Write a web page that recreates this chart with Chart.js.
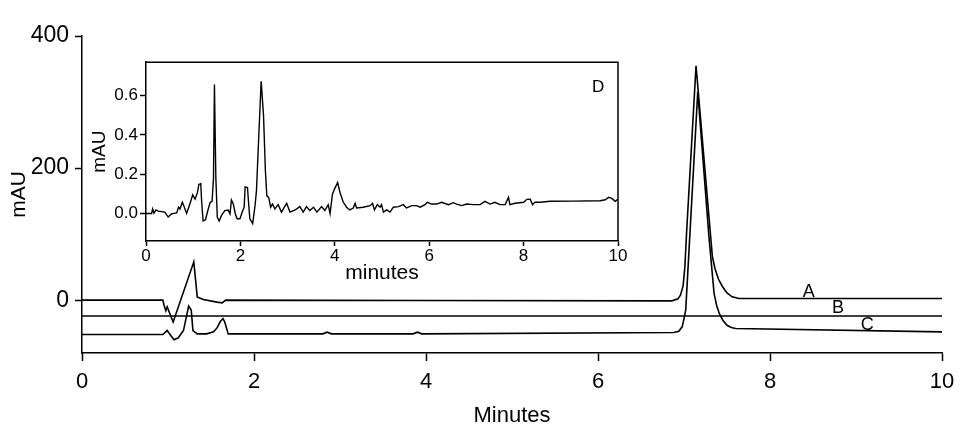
<!DOCTYPE html>
<html lang="en">
<head>
<meta charset="UTF-8">
<title>Chromatogram</title>
<script src="https://cdn.jsdelivr.net/npm/chart.js"></script>
<style>
  body { margin: 0; background: #fff; }
  .wrap { position: relative; width: 972px; height: 440px; }
  #main { position: absolute; left: 0; top: 0; }
  #inset { position: absolute; left: 80px; top: 50px; }
</style>
</head>
<body>
<div class="wrap">
  <canvas id="main" width="972" height="440"></canvas>
  <canvas id="inset" width="560" height="240"></canvas>
</div>
<script>
// main traces (minutes, mAU)
const timeA = [0, 0.94, 0.955, 0.975, 0.99, 1.06, 1.30, 1.34, 1.41, 1.57, 1.63, 1.67, 4.0, 6.86, 6.93, 6.96, 6.99, 7.01, 7.03, 7.14, 7.33, 7.36, 7.40, 7.45, 7.50, 7.56, 7.64, 10];
const valA  = [0, 0, -8, -16, -10, -33, 58, 5, 1, -3, -4, 0, -0.5, -1, 2, 8, 22, 50, 102, 355, 66, 48, 32, 20, 11, 5, 2.6, 2.6];
const timeB = [0, 10];
const valB  = [-24, -24];
const timeC = [0, 0.94, 0.99, 1.03, 1.07, 1.12, 1.18, 1.24, 1.27, 1.29, 1.34, 1.45, 1.53, 1.57, 1.61, 1.64, 1.66, 1.70, 2.80, 2.85, 2.90, 3.85, 3.90, 3.95, 6.88, 6.94, 6.98, 7.00, 7.02, 7.16, 7.29, 7.35, 7.38, 7.41, 7.45, 7.50, 7.55, 7.60, 10];
const valC  = [-52, -52, -46, -53, -60, -57, -46, -9, -15, -46, -51, -51, -48, -42, -32, -28, -33, -51, -51, -48.5, -51, -51, -48.5, -51, -49, -47, -40, -28, -15, 316, 96, 10, -8, -20, -30, -38, -41.5, -43, -48];
const mainXTicks = [0, 2, 4, 6, 8, 10];
const mainYTicks = [0, 200, 400];
const traceNames = ['A', 'B', 'C'];
const nameTimes  = [8.45, 8.79, 9.13];
const nameValues = [13, -12, -37];

// inset trace D (minutes, mAU)
const insetTime = [0.00, 0.12, 0.14, 0.17, 0.21, 0.26, 0.40, 0.47, 0.54, 0.65, 0.69, 0.72, 0.77, 0.80, 0.86, 0.93, 0.99, 1.04, 1.09, 1.12, 1.16, 1.18, 1.21, 1.26, 1.31, 1.36, 1.40, 1.43, 1.45, 1.48, 1.51, 1.55, 1.60, 1.67, 1.74, 1.78, 1.81, 1.85, 1.89, 1.93, 1.99, 2.05, 2.08, 2.10, 2.15, 2.17, 2.20, 2.26, 2.31, 2.34, 2.39, 2.44, 2.49, 2.53, 2.56, 2.60, 2.64, 2.68, 2.73, 2.80, 2.87, 2.98, 3.05, 3.16, 3.26, 3.33, 3.40, 3.47, 3.55, 3.62, 3.72, 3.79, 3.86, 3.90, 3.95, 4.00, 4.06, 4.11, 4.18, 4.25, 4.32, 4.39, 4.43, 4.46, 4.60, 4.75, 4.80, 4.84, 4.90, 4.96, 4.99, 5.03, 5.10, 5.17, 5.24, 5.35, 5.45, 5.52, 5.63, 5.73, 5.81, 5.91, 5.96, 6.05, 6.16, 6.26, 6.41, 6.51, 6.58, 6.69, 6.79, 6.94, 7.08, 7.18, 7.29, 7.39, 7.50, 7.61, 7.68, 7.71, 7.82, 8.00, 8.07, 8.14, 8.19, 8.24, 8.35, 8.56, 9.05, 9.62, 9.73, 9.80, 9.87, 9.94, 10.00];
const insetVal  = [0.000, 0.000, 0.023, 0.002, 0.018, 0.012, 0.007, -0.018, -0.002, 0.003, 0.032, 0.023, 0.057, 0.040, 0.000, 0.048, 0.095, 0.073, 0.107, 0.148, 0.152, 0.057, -0.038, -0.032, 0.015, 0.057, 0.062, 0.180, 0.657, 0.180, -0.018, -0.038, -0.010, 0.015, 0.018, -0.002, 0.068, 0.048, 0.000, -0.027, -0.027, 0.015, 0.032, 0.135, 0.132, 0.065, -0.027, -0.052, 0.040, 0.115, 0.398, 0.673, 0.498, 0.215, 0.090, 0.082, 0.032, 0.048, 0.023, 0.045, 0.007, 0.052, 0.007, 0.018, 0.035, 0.007, 0.035, 0.015, 0.032, 0.007, 0.035, 0.015, 0.045, 0.000, 0.098, 0.128, 0.157, 0.107, 0.057, 0.032, 0.018, 0.028, 0.052, 0.028, 0.032, 0.040, 0.052, 0.018, 0.045, 0.032, 0.045, 0.007, 0.018, 0.007, 0.032, 0.035, 0.045, 0.028, 0.040, 0.040, 0.032, 0.045, 0.057, 0.048, 0.048, 0.057, 0.045, 0.055, 0.048, 0.040, 0.048, 0.045, 0.045, 0.062, 0.048, 0.057, 0.045, 0.045, 0.082, 0.045, 0.052, 0.057, 0.072, 0.073, 0.045, 0.057, 0.057, 0.062, 0.063, 0.065, 0.070, 0.082, 0.077, 0.062, 0.073];
const insetXTicks = [0, 2, 4, 6, 8, 10];
const insetYTicks = [0, 0.2, 0.4, 0.6];
const insetName = 'D';

Chart.defaults.font.family = "'Liberation Sans', Arial, sans-serif";
Chart.defaults.color = '#000';

const zip = (xs, ys) => xs.map((x, i) => ({ x: x, y: ys[i] }));

function trace(label, xs, ys, w) {
  return { label: label, data: zip(xs, ys), borderColor: '#000', borderWidth: w,
           pointRadius: 0, tension: 0, fill: false };
}

function axisStyle(len) {
  return {
    grid: { display: true, drawOnChartArea: false, drawTicks: true, tickLength: len, tickColor: '#000', tickWidth: 1.5 },
    border: { display: true, color: '#000', width: 1.5 }
  };
}

const letters = {
  id: 'letters',
  afterDatasetsDraw(chart, args, opts) {
    const { ctx, scales } = chart;
    ctx.save();
    ctx.font = opts.size + "px 'Liberation Sans', Arial, sans-serif";
    ctx.fillStyle = '#000';
    ctx.textAlign = 'center';
    ctx.textBaseline = 'middle';
    opts.text.forEach((t, i) => {
      ctx.fillText(t, scales.x.getPixelForValue(opts.xs[i]), scales.y.getPixelForValue(opts.ys[i]));
    });
    ctx.restore();
  }
};

const frame = {
  id: 'frame',
  afterDraw(chart) {
    const { ctx, chartArea: a } = chart;
    ctx.save();
    ctx.strokeStyle = '#000';
    ctx.lineWidth = 1.5;
    ctx.beginPath();
    ctx.moveTo(a.left, a.top);
    ctx.lineTo(a.right, a.top);
    ctx.lineTo(a.right, a.bottom);
    ctx.stroke();
    ctx.restore();
  }
};

new Chart(document.getElementById('main'), {
  type: 'line',
  data: { datasets: [trace('A', timeA, valA, 1.6), trace('B', timeB, valB, 1.6), trace('C', timeC, valC, 1.6)] },
  plugins: [letters],
  options: {
    responsive: false,
    animation: false,
    layout: { padding: { top: 36, right: 30, left: 0, bottom: 0 } },
    plugins: {
      legend: { display: false },
      tooltip: { enabled: false },
      letters: { text: traceNames, xs: nameTimes, ys: nameValues, size: 18 }
    },
    scales: {
      x: Object.assign({
        type: 'linear', min: 0, max: 10,
        afterBuildTicks: s => { s.ticks = mainXTicks.map(v => ({ value: v })); },
        afterFit: s => { s.height = 87; },
        ticks: { font: { size: 22 }, padding: 8, maxRotation: 0, autoSkip: false },
        title: { display: true, text: 'Minutes', font: { size: 22 }, padding: { top: 11, bottom: 11 } }
      }, axisStyle(8)),
      y: Object.assign({
        type: 'linear', min: -80, max: 400,
        afterBuildTicks: s => { s.ticks = mainYTicks.map(v => ({ value: v })); },
        afterFit: s => { s.width = 82; },
        ticks: { font: { size: 23 }, padding: 6 },
        title: { display: true, text: 'mAU', font: { size: 21 }, padding: { top: 7, bottom: 7 } }
      }, axisStyle(7))
    }
  }
});

new Chart(document.getElementById('inset'), {
  type: 'line',
  data: { datasets: [trace('D', insetTime, insetVal, 1.4)] },
  plugins: [frame, letters],
  options: {
    responsive: false,
    animation: false,
    layout: { padding: { top: 9, right: 22, left: 0, bottom: 0 } },
    plugins: {
      legend: { display: false },
      tooltip: { enabled: false },
      letters: { text: [insetName], xs: [9.58], ys: [0.64], size: 17 }
    },
    scales: {
      x: Object.assign({
        type: 'linear', min: 0, max: 10,
        afterBuildTicks: s => { s.ticks = insetXTicks.map(v => ({ value: v })); },
        afterFit: s => { s.height = 49; },
        ticks: { font: { size: 17 }, padding: 0, maxRotation: 0, autoSkip: false },
        title: { display: true, text: 'minutes', font: { size: 21 }, padding: { top: 4, bottom: 4 } }
      }, axisStyle(5)),
      y: Object.assign({
        type: 'linear', min: -0.14, max: 0.77,
        afterBuildTicks: s => { s.ticks = insetYTicks.map(v => ({ value: v })); },
        afterFit: s => { s.width = 66; },
        ticks: { font: { size: 17 }, padding: 2, callback: v => v.toFixed(1) },
        title: { display: true, text: 'mAU', font: { size: 19 }, padding: { top: 8, bottom: 8 } }
      }, axisStyle(6))
    }
  }
});
</script>
</body>
</html>
